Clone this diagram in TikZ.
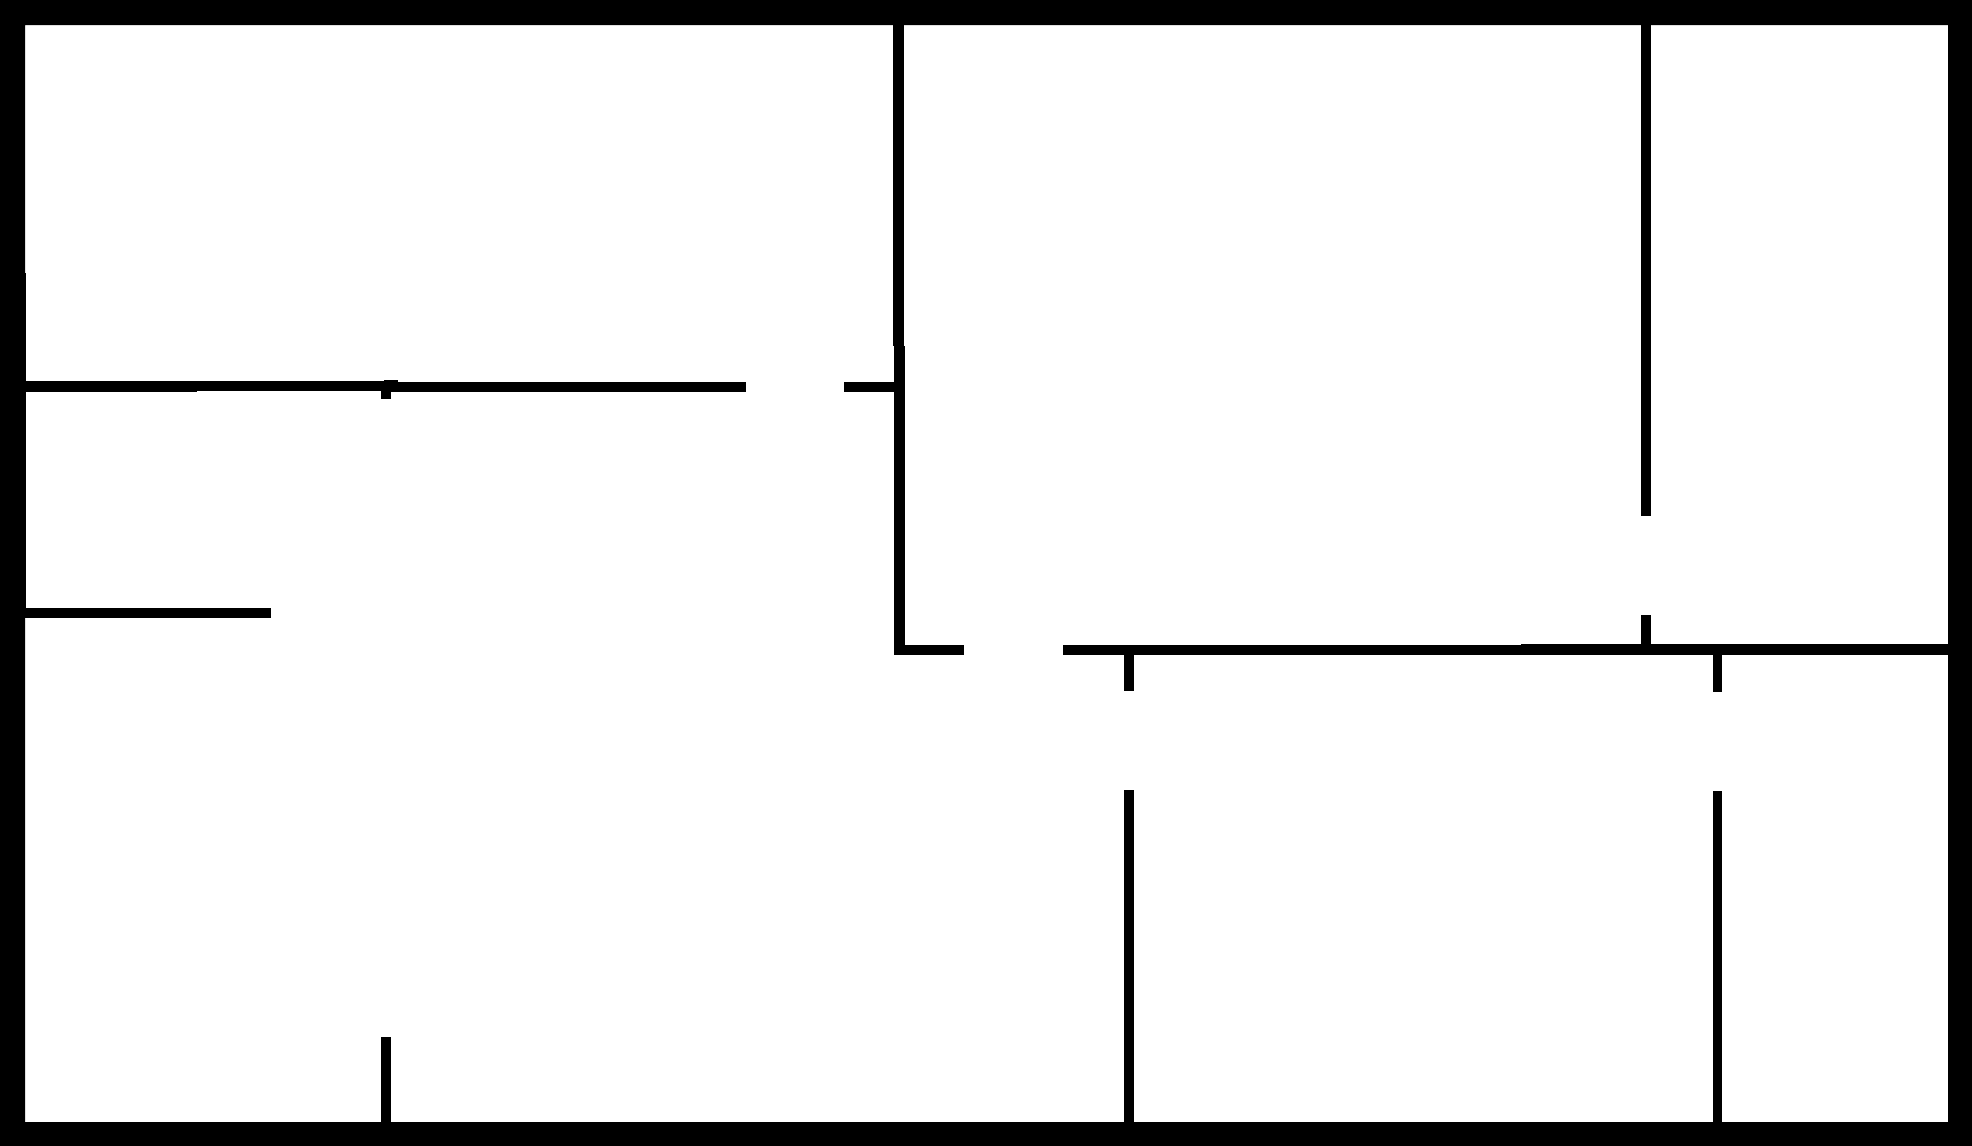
\documentclass[tikz,border=0pt]{standalone}
\tikzset{wall/.style={fill=black,draw=none}}
\begin{document}
\begin{tikzpicture}[x=0.5pt,y=-0.5pt]
\useasboundingbox (0,0) rectangle (1972,1146);
\fill[white] (0,0) rectangle (1972,1146);
% outer wall
\fill[wall,even odd rule] (0,0) rectangle (1972,1146) (25,25) rectangle (1948,1122);
\fill[wall] (25,273) rectangle (26,618);
% upper left wall
\fill[wall] (25,381) rectangle (197,392);
\fill[wall] (197,381) rectangle (384,391);
\fill[wall] (381,381) rectangle (391,399);
\fill[wall] (384,380) rectangle (398,392);
\fill[wall] (398,382) rectangle (746,392);
\fill[wall] (844,382) rectangle (894,392);
% second left wall
\fill[wall] (25,608) rectangle (271,618);
% bottom stub
\fill[wall] (381,1037) rectangle (391,1123);
% central vertical wall
\fill[wall] (893,24) rectangle (904,346);
\fill[wall] (894,346) rectangle (905,655);
\fill[wall] (894,645) rectangle (964,655);
% long horizontal wall
\fill[wall] (1063,645) rectangle (1522,655);
\fill[wall] (1521,644) rectangle (1949,655);
% vertical walls
\fill[wall] (1124,655) rectangle (1134,691);
\fill[wall] (1124,790) rectangle (1134,1123);
\fill[wall] (1713,655) rectangle (1722,692);
\fill[wall] (1713,791) rectangle (1722,1123);
\fill[wall] (1641,24) rectangle (1651,516);
\fill[wall] (1641,615) rectangle (1651,645);
\end{tikzpicture}
\end{document}
